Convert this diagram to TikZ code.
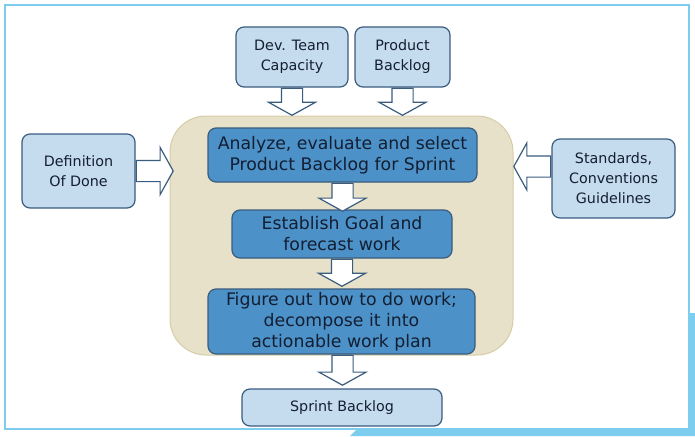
\documentclass[tikz,border=0pt]{standalone}
\usepackage{fontspec}
\setmainfont{DejaVu Sans}
\usepackage{tikz}
\usetikzlibrary{shapes.arrows, positioning}

\definecolor{framebl}{RGB}{125,205,238}
\definecolor{lightbox}{RGB}{197,220,238}
\definecolor{darkbox}{RGB}{76,146,200}
\definecolor{boxline}{RGB}{58,92,126}
\definecolor{beige}{RGB}{232,225,201}
\definecolor{beigeline}{RGB}{214,204,168}
\definecolor{boxtext}{RGB}{20,30,50}

\begin{document}
\begin{tikzpicture}[
		x=1pt, y=-1pt,
		input/.style={rectangle, rounded corners=8pt, draw=boxline, line width=1.2pt, fill=lightbox, align=center, font=\fontsize{14.3}{20}\selectfont, text=boxtext, inner sep=2pt},
		task/.style={rectangle, rounded corners=8pt, draw=boxline, line width=1.2pt, fill=darkbox, align=center, font=\fontsize{17.3}{21}\selectfont, text=boxtext, inner sep=2pt},
		blockarr/.style={single arrow, draw=boxline, line width=1.2pt, fill=white, inner sep=10pt, single arrow head extend=13pt, single arrow tip angle=122, anchor=tail},
		]
	
		\useasboundingbox (0,0) rectangle (695,436);
		% cadre
		\fill[framebl] (358,428) -- (695,428) -- (695,436) -- (350,436) -- cycle;
		\fill[framebl] (688,313) rectangle (695,436);
		\draw[framebl, line width=2.5pt] (5,5) rectangle (689,429);
	
		% Sprint planning
		\node[rectangle, rounded corners=36pt, draw=beigeline, line width=1pt, fill=beige, minimum width=343pt, minimum height=239pt] (plan) at (341.5,235.5) {};
	
		\node[input, minimum width=112pt, minimum height=60pt] (dev) at (292,57) {Dev. Team\\Capacity};
		\node[input, minimum width=95pt, minimum height=60pt] (pb) at (402.5,57) {Product\\Backlog};
		\node[input, minimum width=113pt, minimum height=74pt] (dod) at (78.5,171) {Definition\\Of Done};
		\node[input, minimum width=123pt, minimum height=79pt] (std) at (613.5,178.5) {Standards,\\Conventions\\Guidelines};
	
		\node[task, minimum width=269pt, minimum height=54pt] (sel) at (342.5,155) {Analyze, evaluate and select\\Product Backlog for Sprint};
		\node[task, minimum width=220pt, minimum height=48pt] (goal) at (342,234) {Establish Goal and\\forecast work};
		\node[task, minimum width=267pt, minimum height=65pt] (work) at (341.5,321.5) {Figure out how to do work;\\decompose it into\\actionable work plan};
		\node[input, minimum width=200pt, minimum height=37pt] (sb) at (342,407.5) {Sprint Backlog};
	
		% fleches
		\node[blockarr, shape border rotate=270, minimum height=24pt] (a1) at (dev.south) {};
		\node[blockarr, shape border rotate=270, minimum height=24pt] (a2) at (pb.south) {};
		\node[blockarr, shape border rotate=0, minimum height=37pt] (a3) at (dod.east) {};
		\node[blockarr, shape border rotate=180, minimum height=37pt] (a4) at ([yshift=12pt]std.west) {};
		\node[blockarr, shape border rotate=270, minimum height=28pt] (a5) at (sel.south) {};
		\node[blockarr, shape border rotate=270, minimum height=26pt] (a6) at (goal.south) {};
		\node[blockarr, shape border rotate=270, minimum height=30pt] (a7) at ([xshift=1pt]work.south) {};
	\end{tikzpicture}
\end{document}
